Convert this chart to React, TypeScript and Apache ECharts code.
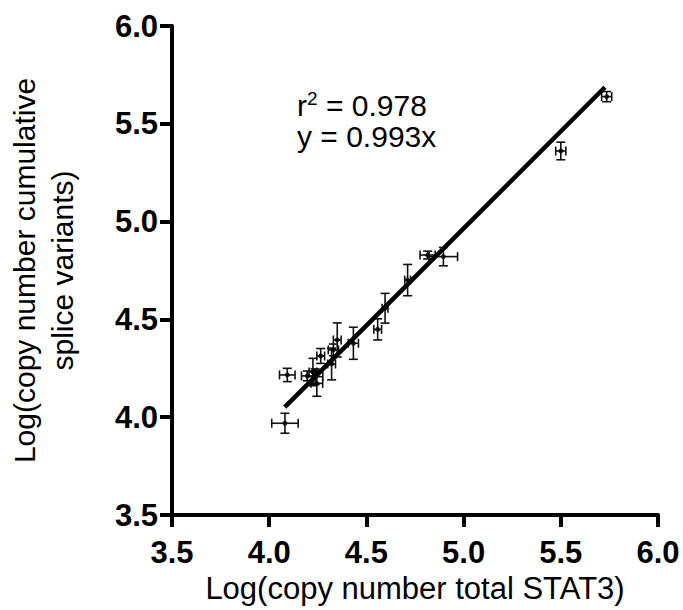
import React, { useEffect, useRef } from "react";
import * as echarts from "echarts";

const xVals = [4.081, 4.093, 4.196, 4.236, 4.245, 4.225, 4.265, 4.321, 4.33, 4.35, 4.433, 4.558, 4.596, 4.712, 4.815, 4.896, 5.5, 5.736];
const yVals = [3.969, 4.216, 4.211, 4.207, 4.173, 4.231, 4.313, 4.272, 4.344, 4.395, 4.378, 4.449, 4.557, 4.701, 4.829, 4.821, 5.361, 5.639];
const xErr = [0.068, 0.04, 0.03, 0.04, 0.03, 0.02, 0.02, 0.02, 0.026, 0.02, 0.026, 0.02, 0.015, 0.015, 0.039, 0.073, 0.026, 0.026];
const yErr = [0.051, 0.034, 0.025, 0.04, 0.066, 0.07, 0.038, 0.081, 0.03, 0.087, 0.082, 0.054, 0.076, 0.08, 0.02, 0.047, 0.045, 0.026];

const slope = 0.993;
const fitXRange = [4.08, 5.727];
const axisTicks = [3.5, 4.0, 4.5, 5.0, 5.5, 6.0];
const rSquared = "0.978";

const FONT = "Liberation Sans, Arial, sans-serif";

export default function App() {
  const ref = useRef<HTMLDivElement>(null);
  useEffect(() => {
    if (!ref.current) return;
    const chart = echarts.init(ref.current, undefined, { renderer: "svg" });
    const points = xVals.map((x, i) => [x, yVals[i], xErr[i], yErr[i]]);
    const fitLine = fitXRange.map((x) => [x, slope * x]);
    const cap = 4.5;
    const axisCommon = {
      type: "value" as const,
      min: axisTicks[0],
      max: axisTicks[axisTicks.length - 1],
      interval: 0.5,
      splitLine: { show: false },
      axisLine: { show: true, lineStyle: { color: "#000", width: 4 } },
      axisTick: { show: true, inside: false, length: 12, lineStyle: { color: "#000", width: 4 } },
      axisLabel: {
        color: "#000",
        fontFamily: FONT,
        fontWeight: "bold" as const,
        fontSize: 31,
        formatter: (v: number) => v.toFixed(1),
      },
      nameLocation: "middle" as const,
      nameTextStyle: { color: "#000", fontFamily: FONT, fontSize: 30 },
    };
    chart.setOption({
      animation: false,
      grid: {
        left: 172,
        top: 26,
        right: 25,
        bottom: 95,
        containLabel: false,
        outerBoundsMode: "none",
      },
      xAxis: {
        ...axisCommon,
        axisLabel: { ...axisCommon.axisLabel, margin: 22 },
        name: "Log(copy number total STAT3)",
        nameGap: 56,
        nameTextStyle: { ...axisCommon.nameTextStyle, fontSize: 31 },
      },
      yAxis: {
        ...axisCommon,
        axisLabel: { ...axisCommon.axisLabel, margin: 14 },
        name: "Log(copy number cumulative\nsplice variants)",
        nameGap: 91,
        nameTextStyle: { ...axisCommon.nameTextStyle, lineHeight: 38 },
      },
      series: [
        {
          type: "custom",
          data: points,
          renderItem: (params: any, api: any) => {
            const x = api.value(0);
            const y = api.value(1);
            const xe = api.value(2);
            const ye = api.value(3);
            const c = api.coord([x, y]);
            const l = api.coord([x - xe, y]);
            const r = api.coord([x + xe, y]);
            const t = api.coord([x, y + ye]);
            const b = api.coord([x, y - ye]);
            const style = { stroke: "#111", lineWidth: 1.6 };
            const mk = (x1: number, y1: number, x2: number, y2: number) => ({
              type: "line",
              shape: { x1, y1, x2, y2 },
              style,
            });
            return {
              type: "group",
              children: [
                mk(l[0], c[1], r[0], c[1]),
                mk(l[0], c[1] - cap, l[0], c[1] + cap),
                mk(r[0], c[1] - cap, r[0], c[1] + cap),
                mk(c[0], t[1], c[0], b[1]),
                mk(c[0] - cap, t[1], c[0] + cap, t[1]),
                mk(c[0] - cap, b[1], c[0] + cap, b[1]),
              ],
            };
          },
          z: 2,
        },
        {
          type: "scatter",
          data: points.map((p) => [p[0], p[1]]),
          symbol: "circle",
          symbolSize: 5,
          itemStyle: { color: "#000" },
          z: 3,
        },
        {
          type: "line",
          data: fitLine,
          symbol: "none",
          lineStyle: { color: "#000", width: 4.5 },
          z: 4,
        },
      ],
      graphic: [
        {
          type: "text",
          left: 297,
          top: 89,
          style: {
            text: "{a|r}{s|2}{a| = " + rSquared + "}",
            rich: {
              a: { fontFamily: FONT, fontSize: 30, fill: "#000", lineHeight: 30, verticalAlign: "bottom" },
              s: { fontFamily: FONT, fontSize: 19, fill: "#000", lineHeight: 30, padding: [0, 0, 12, 0], verticalAlign: "bottom" },
            },
          },
        },
        {
          type: "text",
          left: 297,
          top: 121,
          style: {
            text: "y = " + slope.toFixed(3) + "x",
            fontFamily: FONT,
            fontSize: 30,
            fill: "#000",
          },
        },
      ],
    });
    return () => chart.dispose();
  }, []);
  return (
    <div
      ref={ref}
      style={{ position: "absolute", left: 0, top: 0, width: 683, height: 610, background: "#fff" }}
    />
  );
}
